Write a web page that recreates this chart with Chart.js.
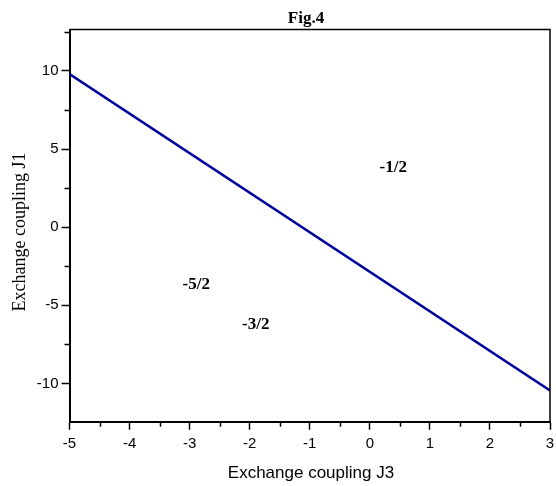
<!DOCTYPE html>
<html>
<head>
<meta charset="utf-8">
<script src="https://cdn.jsdelivr.net/npm/chart.js@4/dist/chart.umd.min.js"></script>
<style>
  html, body { margin: 0; padding: 0; background: #fff; }
  canvas { display: block; }
</style>
</head>
<body>
<canvas id="fig4" width="556" height="486"></canvas>
<script>
// Phase boundary in the (J3, J1) plane
const J3_BOUNDARY = [-5, 3];
const J1_BOUNDARY = [9.8, -10.45];

// Axis ticks
const J3_TICKS = [-5, -4, -3, -2, -1, 0, 1, 2, 3];
const J3_MINOR = [-4.5, -3.5, -2.5, -1.5, -0.5, 0.5, 1.5, 2.5];
const J1_TICKS = [-10, -5, 0, 5, 10];
const J1_MINOR = [-12.5, -7.5, -2.5, 2.5, 7.5, 12.5];

// Ground-state magnetization labels of each region
const PHASE_LABELS = ['-1/2', '-5/2', '-3/2'];
const PHASE_J3 = [0.39, -2.89, -1.9];
const PHASE_J1 = [3.78, -3.65, -6.26];

const AXIS_FONT = 'Liberation Sans, Arial, sans-serif';
const SERIF_FONT = '"Liberation Serif", "Times New Roman", serif';

const decor = {
  id: 'decor',
  afterDraw(chart) {
    const { ctx, chartArea: a, scales: { x, y } } = chart;
    ctx.save();
    ctx.strokeStyle = '#000';

    // top and right frame
    ctx.lineWidth = 1.5;
    ctx.beginPath();
    ctx.moveTo(a.left, a.top);
    ctx.lineTo(a.right, a.top);
    ctx.lineTo(a.right, a.bottom + 1);
    ctx.stroke();

    // minor ticks
    ctx.lineWidth = 1.5;
    ctx.beginPath();
    J3_MINOR.forEach(v => {
      if (v < x.min || v > x.max) return;
      const px = Math.round(x.getPixelForValue(v)) + 0.5;
      ctx.moveTo(px, a.bottom);
      ctx.lineTo(px, a.bottom + 5);
    });
    J1_MINOR.forEach(v => {
      if (v < y.min || v > y.max) return;
      const py = Math.round(y.getPixelForValue(v)) + 0.5;
      ctx.moveTo(a.left, py);
      ctx.lineTo(a.left - 5, py);
    });
    ctx.stroke();

    // region labels
    ctx.fillStyle = '#000';
    ctx.textAlign = 'center';
    ctx.textBaseline = 'middle';
    ctx.font = 'bold 17px ' + SERIF_FONT;
    PHASE_LABELS.forEach((t, i) => {
      ctx.fillText(t, x.getPixelForValue(PHASE_J3[i]), y.getPixelForValue(PHASE_J1[i]));
    });

    // figure title
    ctx.font = 'bold 17px ' + SERIF_FONT;
    ctx.fillText('Fig.4', 306, 19);

    // axis titles
    ctx.font = '17px ' + AXIS_FONT;
    ctx.fillText('Exchange coupling J3', 311, 473);

    ctx.save();
    ctx.translate(20, 232);
    ctx.rotate(-Math.PI / 2);
    ctx.font = '18px ' + SERIF_FONT;
    ctx.fillText('Exchange coupling J1', 0, 0);
    ctx.restore();

    ctx.restore();
  }
};

new Chart(document.getElementById('fig4'), {
  type: 'scatter',
  data: {
    datasets: [{
      data: J3_BOUNDARY.map((v, i) => ({ x: v, y: J1_BOUNDARY[i] })),
      showLine: true,
      borderColor: '#00009c',
      borderWidth: 2.6,
      pointRadius: 0,
      fill: false,
      tension: 0
    }]
  },
  options: {
    responsive: false,
    devicePixelRatio: 1,
    animation: false,
    layout: { padding: { top: 29.5, right: 6, left: 0, bottom: 0 } },
    plugins: {
      legend: { display: false },
      tooltip: { enabled: false },
      title: { display: false }
    },
    scales: {
      x: {
        type: 'linear',
        min: -5,
        max: 3,
        afterBuildTicks: s => { s.ticks = J3_TICKS.map(v => ({ value: v })); },
        afterFit: s => { s.height = 64.3; s.paddingLeft = 0; s.paddingRight = 0; },
        ticks: {
          color: '#000',
          font: { family: AXIS_FONT, size: 15 },
          padding: 5,
          maxRotation: 0,
          autoSkip: false,
          callback: v => String(v)
        },
        grid: { drawOnChartArea: false, drawTicks: true, tickLength: 8, tickWidth: 1.5, tickColor: '#000' },
        border: { display: true, color: '#000', width: 2 }
      },
      y: {
        type: 'linear',
        min: -12.45,
        max: 12.65,
        afterBuildTicks: s => { s.ticks = J1_TICKS.map(v => ({ value: v })); },
        afterFit: s => { s.width = 69.5; s.paddingTop = 0; s.paddingBottom = 0; },
        ticks: {
          color: '#000',
          font: { family: AXIS_FONT, size: 15 },
          padding: 3,
          autoSkip: false,
          callback: v => String(v)
        },
        grid: { drawOnChartArea: false, drawTicks: true, tickLength: 8, tickWidth: 1.5, tickColor: '#000' },
        border: { display: true, color: '#000', width: 2 }
      }
    }
  },
  plugins: [decor]
});
</script>
</body>
</html>
